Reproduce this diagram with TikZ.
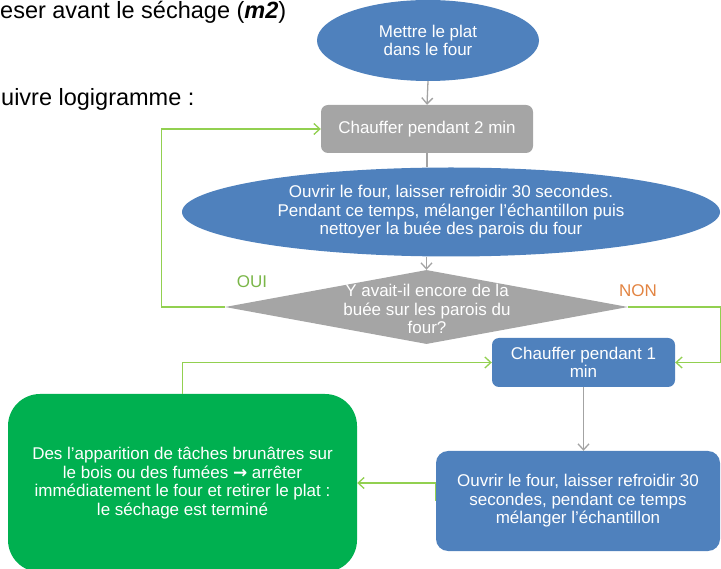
\documentclass[tikz,border=0pt]{standalone}
\usepackage{fontspec}
\setmainfont{Liberation Sans}
\newfontfamily\symbfont{DejaVu Sans}
\usetikzlibrary{shapes.geometric,arrows.meta}

\definecolor{ovalblue}{RGB}{79,129,189}
\definecolor{boxgray}{RGB}{165,165,165}
\definecolor{stopgreen}{RGB}{0,176,80}
\definecolor{linegreen}{RGB}{146,208,80}
\definecolor{linegray}{RGB}{163,163,163}
\definecolor{ouigreen}{RGB}{122,182,72}
\definecolor{nonorange}{RGB}{226,132,66}

\tikzset{
  boxtext/.style={text=white, font=\fontsize{17}{18.5}\selectfont, align=center, inner sep=0pt},
  oval/.style={boxtext, ellipse, fill=ovalblue},
  graybox/.style={boxtext, rectangle, rounded corners=7pt, fill=boxgray},
  bluebox/.style={boxtext, rectangle, fill=ovalblue},
  decision/.style={diamond, fill=boxgray, inner sep=0pt},
  grayarrow/.style={draw=linegray, line width=1.3pt, -{Straight Barb[length=6pt,width=11pt]}},
  greenarrow/.style={draw=linegreen, line width=1.3pt, -{Straight Barb[length=6pt,width=11pt]}},
}

\begin{document}
\begin{tikzpicture}[x=1pt, y=-1pt]
    \useasboundingbox (0,0) rectangle (721,569);

    % Texte au-dessus
    \node[anchor=base west, inner sep=0pt, font=\fontsize{23.5}{28}\selectfont] (titre) at (0,18.5)
        {eser avant le séchage (\textbf{\textit{m2}})};
    \node[anchor=base west, inner sep=0pt, font=\fontsize{23.5}{28}\selectfont] (consigne) at (1,106)
        {uivre logigramme :};

    % Etapes
    \node[oval, minimum width=222pt, minimum height=81pt] (m1) at (428,40.5) {Mettre le plat\\dans le four};
    \node[graybox, minimum width=212pt, minimum height=48pt] (c2) at (427,129) {Chauffer pendant 2 min};
    \node[oval, minimum width=538pt, minimum height=89pt] (o1) at (451,212)
        {Ouvrir le four, laisser refroidir 30 secondes.\\Pendant ce temps, mélanger l’échantillon puis\\nettoyer la buée des parois du four};
    \node[decision, minimum width=403pt, minimum height=74pt] (q) at (426.5,307) {};
    \node[boxtext] (qtext) at (427,309) {Y avait-il encore de la\\buée sur les parois du\\four?};
    \node[bluebox, rounded corners=7pt, minimum width=183pt, minimum height=49pt] (b1) at (583.5,362.5)
        {Chauffer pendant 1\\min};
    \node[bluebox, rounded corners=12pt, minimum width=284pt, minimum height=100pt] (b2) at (578,501)
        {Ouvrir le four, laisser refroidir 30\\secondes, pendant ce temps\\mélanger l’échantillon};
    \node[boxtext, rectangle, rounded corners=32pt, fill=stopgreen, minimum width=349pt, minimum height=178pt] (fin) at (182.5,483)
        {Des l’apparition de tâches brunâtres sur\\le bois ou des fumées {\symbfont\bfseries →} arrêter\\immédiatement le four et retirer le plat :\\le séchage est terminé};

    % Liaisons grises
    \draw[grayarrow] (m1.south) -- (c2.north);
    \draw[draw=linegray, line width=1.3pt] (c2.south) -- (c2.south |- o1.north);
    \draw[grayarrow] (o1.south -| q.north) -- (q.north);
    \draw[grayarrow] (b1.south) -- (b1.south |- b2.north);

    % Boucles OUI / NON
    \draw[greenarrow] (q.west) -- ++(-63,0) |- (c2.west);
    \draw[greenarrow] (q.east) -- ++(92,0) |- (b1.east);
    \draw[greenarrow] (fin.north) |- (b1.west);
    \draw[greenarrow] (b2.west) |- (fin.east);

    \node[text=ouigreen, font=\fontsize{17}{18.5}\selectfont] (oui) at (252,282) {OUI};
    \node[text=nonorange, font=\fontsize{17}{18.5}\selectfont] (non) at (638,291) {NON};
\end{tikzpicture}
\end{document}
